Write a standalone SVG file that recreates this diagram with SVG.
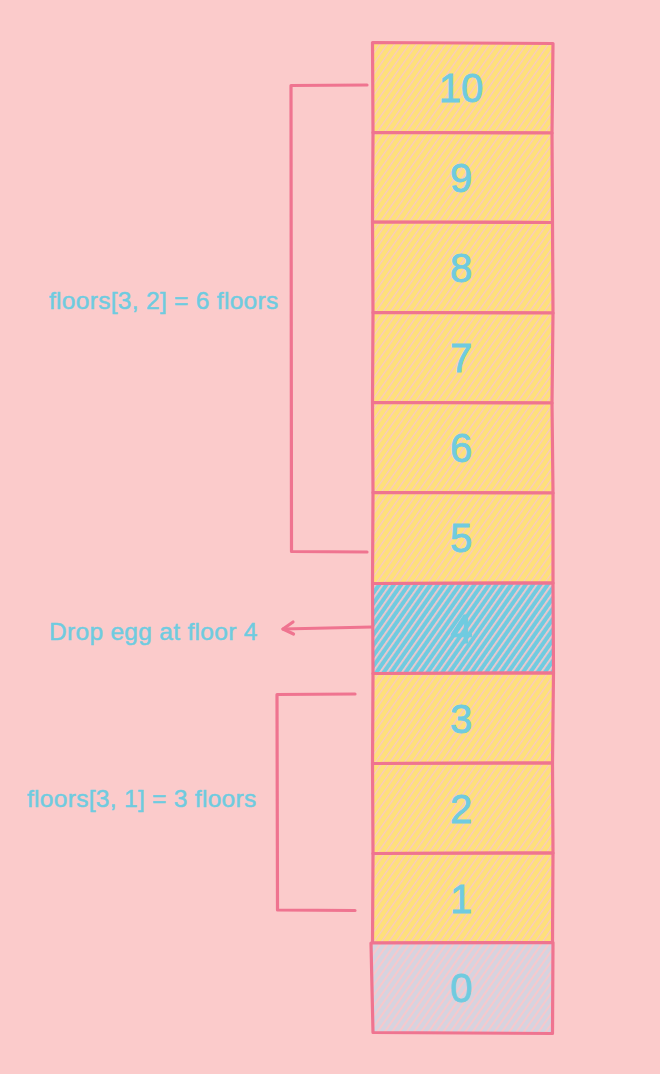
<svg xmlns="http://www.w3.org/2000/svg" width="660" height="1074" viewBox="0 0 660 1074">
<style>
.box{stroke:#ef7490;stroke-width:3.2;stroke-linejoin:round;stroke-linecap:round}
.y{fill:url(#hy)}
.b{fill:url(#hb)}
.g{fill:url(#hg)}
.num{font-family:"Liberation Sans",Arial,sans-serif;font-size:40px;fill:#6fcbe0;stroke:#6fcbe0;stroke-width:0.8;text-anchor:middle}
.lbl{font-family:"Liberation Sans",Arial,sans-serif;font-size:24.5px;letter-spacing:0.3px;fill:#6fcbe0;stroke:#6fcbe0;stroke-width:0.5}
.con{fill:none;stroke:#ef7490;stroke-width:3.2;stroke-linecap:round;stroke-linejoin:round}
</style>
<defs>
<pattern id="hy" width="6" height="12" patternUnits="userSpaceOnUse" patternTransform="rotate(35)">
<rect width="6" height="12" fill="#fee07a"/>
<rect x="0" width="1.3" height="12" fill="#f8c8c4"/>
</pattern>
<pattern id="hb" width="6" height="12" patternUnits="userSpaceOnUse" patternTransform="rotate(35)">
<rect width="6" height="12" fill="#70cbe0"/>
<rect x="0" width="1.8" height="12" fill="#f2c7cd"/>
</pattern>
<pattern id="hg" width="6" height="12" patternUnits="userSpaceOnUse" patternTransform="rotate(35)">
<rect width="6" height="12" fill="#d6d3df"/>
<rect x="0" width="2" height="12" fill="#f6c8cc"/>
</pattern>
</defs>
<rect width="660" height="1074" fill="#fbcbcb"/>

<g id="floor-10"><path class="box y" d="M372.5 42.5 L553 43.5 L552 133 L373 132.5 Z"/><text class="num" x="461" y="102">10</text></g>
<g id="floor-9"><path class="box y" d="M373 132.5 L552 133 L552.5 222.5 L372.5 222 Z"/><text class="num" x="461" y="192">9</text></g>
<g id="floor-8"><path class="box y" d="M372.5 222 L552.5 222.5 L553 313 L373 312.5 Z"/><text class="num" x="461" y="282">8</text></g>
<g id="floor-7"><path class="box y" d="M373 312.5 L553 313 L552 403 L372.5 402.5 Z"/><text class="num" x="461" y="372">7</text></g>
<g id="floor-6"><path class="box y" d="M372.5 402.5 L552 403 L553 493 L373 492.5 Z"/><text class="num" x="461" y="462">6</text></g>
<g id="floor-5"><path class="box y" d="M373 492.5 L553 493 L553 583 L372.5 583.5 Z"/><text class="num" x="461" y="552">5</text></g>
<g id="floor-4"><path class="box b" d="M372.5 583.5 L553 583 L553.5 673 L373 673.5 Z"/><text class="num" x="461" y="643">4</text></g>
<g id="floor-3"><path class="box y" d="M373 673.5 L553.5 673 L552.5 763 L372.5 763.5 Z"/><text class="num" x="461" y="733">3</text></g>
<g id="floor-2"><path class="box y" d="M372.5 763.5 L552.5 763 L553 853 L373 853.5 Z"/><text class="num" x="461" y="823">2</text></g>
<g id="floor-1"><path class="box y" d="M373 853.5 L553 853 L552.5 942.5 L372.5 943 Z"/><text class="num" x="461" y="913">1</text></g>
<g id="floor-0"><path class="box g" d="M371 943 L553 942.5 L552.5 1033.5 L373 1032.5 Z"/><text class="num" x="461" y="1002">0</text></g>

<g id="connectors">
<path class="con" d="M367 85 L291 85.5 L291.5 551.5 L367 552"/>
<path class="con" d="M355 694 L277 694.5 L277.5 910 L355 910.5"/>
<path class="con" d="M372 627 L283 629"/>
<path class="con" d="M293 622 L283 629 L293.5 634"/>
</g>

<g id="label-upper"><text class="lbl" x="49" y="309">floors[3, 2] = 6 floors</text></g>
<g id="label-drop"><text class="lbl" x="49" y="640">Drop egg at floor 4</text></g>
<g id="label-lower"><text class="lbl" x="27" y="807">floors[3, 1] = 3 floors</text></g>
</svg>
